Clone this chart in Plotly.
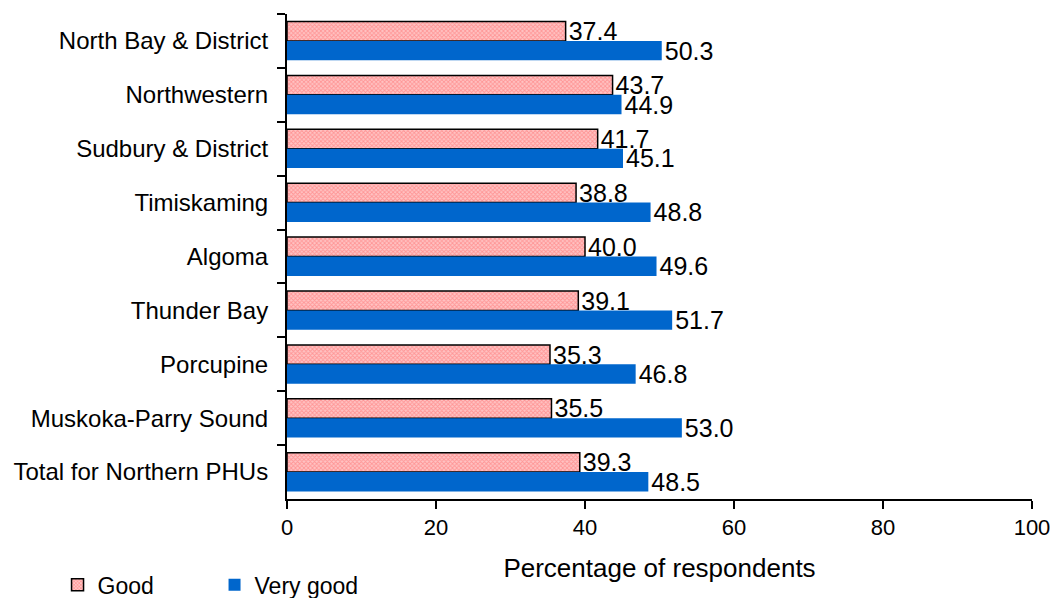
import plotly.graph_objects as go

regions = [
    "North Bay & District",
    "Northwestern",
    "Sudbury & District",
    "Timiskaming",
    "Algoma",
    "Thunder Bay",
    "Porcupine",
    "Muskoka-Parry Sound",
    "Total for Northern PHUs",
]
good = [37.4, 43.7, 41.7, 38.8, 40.0, 39.1, 35.3, 35.5, 39.3]
very_good = [50.3, 44.9, 45.1, 48.8, 49.6, 51.7, 46.8, 53.0, 48.5]

FONT = "Liberation Sans, Arial, sans-serif"
LABEL_SIZE = 25

fig = go.Figure()
fig.add_trace(go.Bar(
    name="Good",
    y=regions,
    x=good,
    orientation="h",
    marker=dict(
        color="#FF9090",
        line=dict(color="black", width=1.5),
        pattern=dict(shape="x", size=3, fgcolor="#FF6464", bgcolor="#FFC4C4", solidity=0.5),
    ),
    text=[f"{v:.1f}" for v in good],
    textposition="outside",
    constraintext="none",
    cliponaxis=False,
    textfont=dict(family=FONT, size=LABEL_SIZE, color="black"),
))
fig.add_trace(go.Bar(
    name="Very good",
    y=regions,
    x=very_good,
    orientation="h",
    marker=dict(color="#0066CC", line=dict(width=0)),
    text=[f"{v:.1f}" for v in very_good],
    textposition="outside",
    constraintext="none",
    cliponaxis=False,
    textfont=dict(family=FONT, size=LABEL_SIZE, color="black"),
))

fig.update_layout(
    width=1054,
    height=598,
    margin=dict(l=287, r=22, t=14, b=99, autoexpand=False),
    paper_bgcolor="white",
    plot_bgcolor="white",
    barmode="group",
    bargap=0.28,
    bargroupgap=0,
    font=dict(family=FONT, size=22, color="black"),
    showlegend=True,
    legend=dict(
        orientation="h",
        x=-0.308,
        xanchor="left",
        y=-0.177,
        yanchor="middle",
        font=dict(family=FONT, size=23),
        entrywidth=112,
        entrywidthmode="pixels",
        itemwidth=30,
        tracegroupgap=0,
        bgcolor="rgba(0,0,0,0)",
    ),
    xaxis=dict(
        range=[0, 100],
        dtick=20,
        showgrid=False,
        zeroline=False,
        showline=True,
        linecolor="black",
        linewidth=2,
        ticks="outside",
        ticklen=8,
        tickwidth=2,
        tickcolor="black",
        tickfont=dict(family=FONT, size=22),
        title=dict(text="Percentage of respondents", font=dict(family=FONT, size=26), standoff=19),
    ),
    yaxis=dict(
        autorange="reversed",
        showgrid=False,
        showline=True,
        linecolor="black",
        linewidth=2,
        ticks="outside",
        tickson="boundaries",
        ticklen=8,
        tickwidth=2,
        tickcolor="black",
        tickfont=dict(family=FONT, size=24),
        ticklabelstandoff=12,
    ),
)

fig.write_html("out.html")
